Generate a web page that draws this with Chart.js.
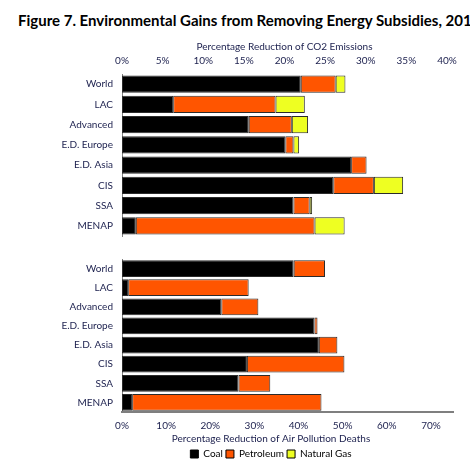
<!DOCTYPE html>
<html>
<head>
<meta charset="utf-8">
<script src="https://cdn.jsdelivr.net/npm/chart.js@4.4.1/dist/chart.umd.min.js"></script>
<style>
  html, body { margin: 0; padding: 0; background: #fff; overflow: hidden; }
  #page { position: relative; width: 470px; height: 470px; overflow: hidden; }
  #figTitle {
    position: absolute; left: 18px; top: 11px;
    font: bold 15px Lato, "Open Sans", sans-serif; color: #000;
    white-space: nowrap;
  }
  #co2Chart { position: absolute; left: 0; top: 38px; }
  #deathChart { position: absolute; left: 50px; top: 250px; }
</style>
</head>
<body>
<div id="page">
  <div id="figTitle">Figure 7. Environmental Gains from Removing Energy Subsidies, 2015</div>
  <canvas id="co2Chart" width="470" height="200"></canvas>
  <canvas id="deathChart" width="442" height="219"></canvas>
</div>
<script>
const regions = ['World', 'LAC', 'Advanced', 'E.D. Europe', 'E.D. Asia', 'CIS', 'SSA', 'MENAP'];

// percentage reduction of CO2 emissions, by fuel
const co2Coal      = [22.0, 6.3, 15.6, 20.1, 28.2, 26.0, 21.1, 1.7];
const co2Petroleum = [4.3, 12.6, 5.3, 1.0, 1.9, 5.0, 2.0, 22.0];
const co2Gas       = [1.2, 3.6, 2.0, 0.7, 0.0, 3.6, 0.3, 3.7];

// percentage reduction of air pollution deaths, by fuel
const deathCoal      = [38.9, 1.4, 22.5, 43.6, 44.6, 28.3, 26.4, 2.3];
const deathPetroleum = [7.1, 27.3, 8.4, 0.7, 4.2, 22.1, 7.2, 42.9];
const deathGas       = [0, 0, 0, 0, 0, 0, 0, 0];

const co2Ticks = [0, 5, 10, 15, 20, 25, 30, 35, 40];
const deathTicks = [0, 10, 20, 30, 40, 50, 60, 70];

const fuelNames = ['Coal', 'Petroleum', 'Natural Gas'];
const fuelColors = ['#000000', '#ff5500', '#eeff22'];

const labelFont = { family: 'Lato, "Open Sans", sans-serif', size: 10 };
const textColor = '#1b1f4d';

function makeDatasets(series, barPct) {
  return series.map((data, i) => ({
    label: fuelNames[i],
    data: data,
    backgroundColor: fuelColors[i],
    borderColor: '#2b2b2b',
    borderWidth: 1,
    borderSkipped: false,
    barPercentage: barPct,
    categoryPercentage: 1.0
  }));
}

function keepTicks(list) {
  return function (scale) {
    scale.ticks = list.map(v => ({ value: v }));
  };
}

// fix a scale's size and the extra room it asks for around the plot
function fixSize(size, padRight) {
  return function (s) {
    if (s.isHorizontal()) s.height = size; else s.width = size;
    s.paddingLeft = 0;
    s.paddingTop = 0;
    s.paddingBottom = 0;
    s.paddingRight = padRight || 0;
  };
}

// top chart: CO2 emissions
new Chart(document.getElementById('co2Chart'), {
  type: 'bar',
  data: {
    labels: regions,
    datasets: makeDatasets([co2Coal, co2Petroleum, co2Gas], 0.84)
  },
  options: {
    indexAxis: 'y',
    responsive: false,
    animation: false,
    layout: { padding: { right: 23, bottom: 2 } },
    plugins: { legend: { display: false }, tooltip: { enabled: false } },
    scales: {
      x: {
        position: 'top',
        stacked: true,
        min: 0,
        max: 40,
        afterBuildTicks: keepTicks(co2Ticks),
        afterFit: fixSize(36),
        grid: { display: false, drawTicks: false },
        border: { display: false },
        ticks: { font: labelFont, color: textColor, padding: 7, callback: v => v + '%' },
        title: {
          display: true,
          text: 'Percentage Reduction of CO2 Emissions',
          font: labelFont, color: textColor,
          padding: { top: 3, bottom: 0 }
        }
      },
      y: {
        stacked: true,
        afterFit: fixSize(122),
        grid: { display: false, drawTicks: false },
        border: { display: true, color: '#7f7f7f', width: 1 },
        ticks: { font: labelFont, color: textColor, padding: 9 }
      }
    }
  }
});

// bottom chart: air pollution deaths
new Chart(document.getElementById('deathChart'), {
  type: 'bar',
  data: {
    labels: regions,
    datasets: makeDatasets([deathCoal, deathPetroleum, deathGas], 0.87)
  },
  options: {
    indexAxis: 'y',
    responsive: false,
    animation: false,
    layout: { padding: { top: 9 } },
    plugins: {
      tooltip: { enabled: false },
      title: {
        display: true,
        position: 'bottom',
        text: 'Percentage Reduction of Air Pollution Deaths',
        font: { family: labelFont.family, size: 10, weight: 'normal' },
        color: textColor,
        weight: 500,
        padding: { top: 0, bottom: 1 }
      },
      legend: {
        position: 'bottom',
        weight: 1000,
        labels: {
          font: labelFont, color: textColor,
          boxWidth: 8, boxHeight: 8, padding: 3,
          generateLabels: chart => chart.data.datasets.map((ds, i) => ({
            text: ds.label,
            fillStyle: ds.backgroundColor,
            strokeStyle: '#000',
            lineWidth: 1,
            datasetIndex: i
          }))
        }
      }
    },
    scales: {
      x: {
        stacked: true,
        min: 0,
        max: 75,
        afterBuildTicks: keepTicks(deathTicks),
        afterFit: fixSize(21, 39),
        grid: { display: false, drawTicks: false },
        border: { display: true, color: '#7f7f7f', width: 2 },
        ticks: { font: labelFont, color: textColor, padding: 8, callback: v => v + '%' }
      },
      y: {
        stacked: true,
        afterFit: fixSize(72),
        grid: { display: false, drawTicks: false },
        border: { display: true, color: '#7f7f7f', width: 1 },
        ticks: { font: labelFont, color: textColor, padding: 9 }
      }
    }
  }
});
</script>
</body>
</html>
